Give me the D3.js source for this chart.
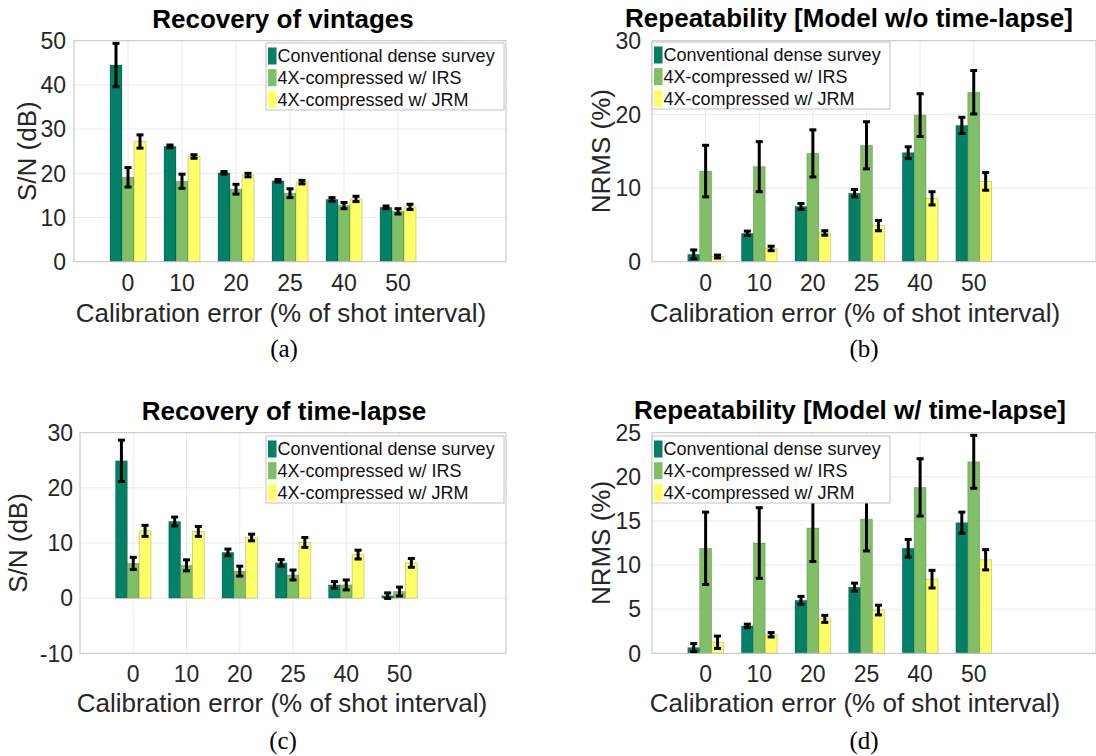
<!DOCTYPE html>
<html><head><meta charset="utf-8">
<script src="https://cdn.jsdelivr.net/npm/d3@7"></script>
<style>body{margin:0;background:#fff} svg{display:block}</style>
</head><body>
<svg id="fig" width="1096" height="756"></svg>
<script>
// ---------- data ----------
const categories = ["0", "10", "20", "25", "40", "50"];
const seriesNames = ["Conventional dense survey", "4X-compressed w/ IRS", "4X-compressed w/ JRM"];
const seriesColors = ["#008066", "#80bf66", "#ffff66"];

// (a) Recovery of vintages, S/N (dB)
const vintConv   = [44.5, 26.1, 20.1, 18.3, 14.1, 12.3];
const vintConvE  = [4.9, 0.3, 0.3, 0.3, 0.4, 0.3];
const vintIRS    = [19.1, 18.2, 16.4, 15.5, 12.7, 11.4];
const vintIRSE   = [2.2, 1.6, 1.1, 1.0, 0.7, 0.6];
const vintJRM    = [27.2, 23.8, 19.6, 18.0, 14.2, 12.4];
const vintJRME   = [1.5, 0.4, 0.4, 0.4, 0.6, 0.6];

// (b) Repeatability, model w/o time-lapse, NRMS (%)
const repNoConv  = [1.0, 3.85, 7.5, 9.3, 14.8, 18.5];
const repNoConvE = [0.6, 0.3, 0.4, 0.5, 0.8, 1.1];
const repNoIRS   = [12.3, 12.9, 14.7, 15.8, 19.9, 23.0];
const repNoIRSE  = [3.5, 3.4, 3.2, 3.2, 2.9, 2.95];
const repNoJRM   = [0.7, 1.8, 3.9, 4.9, 8.6, 10.9];
const repNoJRME  = [0.2, 0.3, 0.3, 0.7, 0.9, 1.2];

// (c) Recovery of time-lapse, S/N (dB)
const tlConv     = [24.9, 13.9, 8.3, 6.4, 2.4, 0.45];
const tlConvE    = [3.75, 0.8, 0.6, 0.6, 0.6, 0.5];
const tlIRS      = [6.3, 5.95, 4.9, 4.2, 2.4, 1.2];
const tlIRSE     = [1.1, 1.0, 0.9, 0.9, 0.9, 0.8];
const tlJRM      = [12.2, 12.1, 11.0, 10.1, 7.9, 6.4];
const tlJRME     = [1.0, 0.9, 0.6, 0.9, 0.8, 0.8];

// (d) Repeatability, model w/ time-lapse, NRMS (%)
const repTlConv  = [0.65, 3.1, 6.0, 7.5, 11.9, 14.8];
const repTlConvE = [0.45, 0.2, 0.45, 0.45, 1.0, 1.2];
const repTlIRS   = [11.9, 12.5, 14.2, 15.2, 18.8, 21.7];
const repTlIRSE  = [4.1, 4.0, 3.8, 3.6, 3.25, 3.0];
const repTlJRM   = [1.25, 2.1, 3.9, 4.9, 8.4, 10.6];
const repTlJRME  = [0.7, 0.25, 0.4, 0.55, 1.0, 1.15];

const ticksA = [0, 10, 20, 30, 40, 50];
const ticksB = [0, 10, 20, 30];
const ticksC = [-10, 0, 10, 20, 30];
const ticksD = [0, 5, 10, 15, 20, 25];

const xLabel = "Calibration error (% of shot interval)";

// ---------- layout ----------
const panels = [
  {cap:"(a)", title:"Recovery of vintages", ylabel:"S/N (dB)", yDomain:[0,50], yTicks:ticksA,
   vals:[vintConv, vintIRS, vintJRM], errs:[vintConvE, vintIRSE, vintJRME],
   box:[74, 506, 40.7, 261.7], xMax:8, legX:266, legY:43, tickR:66, titleX:283, titleY:28, xlabX:281, xlabY:322, capX:284, capY:357, ylabX:27, xtickY:291},
  {cap:"(b)", title:"Repeatability [Model w/o time-lapse]", ylabel:"NRMS (%)", yDomain:[0,30], yTicks:ticksB,
   vals:[repNoConv, repNoIRS, repNoJRM], errs:[repNoConvE, repNoIRSE, repNoJRME],
   box:[652, 1096, 40.7, 261.7], xMax:8.28, legX:652, legY:42, tickR:641, titleX:849, titleY:27, xlabX:855, xlabY:322, capX:864, capY:357, ylabX:601, xtickY:291},
  {cap:"(c)", title:"Recovery of time-lapse", ylabel:"S/N (dB)", yDomain:[-10,30], yTicks:ticksC,
   vals:[tlConv, tlIRS, tlJRM], errs:[tlConvE, tlIRSE, tlJRME],
   box:[80, 506, 432.7, 653.3], xMax:8, legX:266, legY:436, tickR:73, titleX:284, titleY:420, xlabX:282, xlabY:712, capX:283, capY:749, ylabX:18, xtickY:682},
  {cap:"(d)", title:"Repeatability [Model w/ time-lapse]", ylabel:"NRMS (%)", yDomain:[0,25], yTicks:ticksD,
   vals:[repTlConv, repTlIRS, repTlJRM], errs:[repTlConvE, repTlIRSE, repTlJRME],
   box:[652, 1096, 432.7, 653.3], xMax:8.28, legX:652, legY:436, tickR:641, titleX:850, titleY:419, xlabX:855, xlabY:712, capX:864, capY:749, ylabX:601, xtickY:682}
];

const svg = d3.select("#fig");
const SANS = "'Liberation Sans', Arial, Helvetica, sans-serif";
const TXT = "#262626";
const LEG_W = 238, LEG_H = 67;

panels.forEach(p => {
  const [x0, x1, yTop, yBot] = p.box;
  const g = svg.append("g");
  const x = d3.scaleLinear().domain([0, p.xMax]).range([x0, x1]);
  const y = d3.scaleLinear().domain(p.yDomain).range([yBot, yTop]);
  const bw = x(2/9) - x(0);

  // grid
  g.append("g").selectAll("line").data(p.yTicks.filter(t => t !== p.yDomain[0] && t !== p.yDomain[1]))
    .join("line").attr("x1", x0).attr("x2", x1).attr("y1", d => y(d)).attr("y2", d => y(d))
    .attr("stroke", "#ebebeb").attr("stroke-width", 1);
  g.append("g").selectAll("line").data(categories)
    .join("line").attr("x1", (d, i) => x(i + 1)).attr("x2", (d, i) => x(i + 1)).attr("y1", yTop).attr("y2", yBot)
    .attr("stroke", "#ebebeb").attr("stroke-width", 1);

  // bars
  p.vals.forEach((vals, s) => {
    g.append("g").selectAll("rect").data(vals).join("rect")
      .attr("x", (d, i) => x(i + 1) + (s - 1) * bw - bw / 2)
      .attr("width", bw)
      .attr("y", d => Math.min(y(d), y(0)))
      .attr("height", d => Math.abs(y(0) - y(d)))
      .attr("fill", seriesColors[s])
      .attr("stroke", "rgba(0,0,0,0.22)").attr("stroke-width", 0.8);
  });

  // box
  g.append("rect").attr("x", x0).attr("y", yTop).attr("width", x1 - x0).attr("height", yBot - yTop)
    .attr("fill", "none").attr("stroke", "#c2c2c2").attr("stroke-width", 1);

  // error bars
  p.vals.forEach((vals, s) => {
    const eg = g.append("g").attr("stroke", "#000").attr("stroke-width", 3);
    vals.forEach((v, i) => {
      const cx = x(i + 1) + (s - 1) * bw;
      const e = p.errs[s][i];
      eg.append("line").attr("x1", cx).attr("x2", cx).attr("y1", y(v - e)).attr("y2", y(v + e));
      [v - e, v + e].forEach(t => eg.append("line").attr("x1", cx - 3.5).attr("x2", cx + 3.5).attr("y1", y(t)).attr("y2", y(t)));
    });
  });

  // y tick labels
  g.append("g").selectAll("text").data(p.yTicks).join("text")
    .attr("x", p.tickR).attr("y", d => y(d)).attr("dy", "0.36em")
    .attr("text-anchor", "end").attr("font-family", SANS).attr("font-size", 23).attr("fill", TXT)
    .text(d => d);
  // x tick labels
  g.append("g").selectAll("text").data(categories).join("text")
    .attr("x", (d, i) => x(i + 1)).attr("y", p.xtickY)
    .attr("text-anchor", "middle").attr("font-family", SANS).attr("font-size", 23).attr("fill", TXT)
    .text(d => d);

  // axis labels
  g.append("text").attr("x", p.xlabX).attr("y", p.xlabY).attr("text-anchor", "middle")
    .attr("font-family", SANS).attr("font-size", 26).attr("fill", TXT).text(xLabel);
  g.append("text").attr("transform", `translate(${p.ylabX},${(yTop + yBot) / 2}) rotate(-90)`)
    .attr("dy", "0.36em").attr("text-anchor", "middle")
    .attr("font-family", SANS).attr("font-size", 26).attr("fill", TXT).text(p.ylabel);

  // title
  g.append("text").attr("x", p.titleX).attr("y", p.titleY).attr("text-anchor", "middle")
    .attr("font-family", SANS).attr("font-size", 26).attr("font-weight", "bold").attr("fill", "#000").text(p.title);

  // caption
  g.append("text").attr("x", p.capX).attr("y", p.capY).attr("text-anchor", "middle")
    .attr("font-family", "'Liberation Serif', 'DejaVu Serif', serif").attr("font-size", 25).attr("fill", "#000").text(p.cap);

  // legend
  const lx = p.legX, ly = p.legY;
  const lg = g.append("g");
  lg.append("rect").attr("x", lx).attr("y", ly).attr("width", LEG_W).attr("height", LEG_H)
    .attr("fill", "#fff").attr("stroke", "#c2c2c2").attr("stroke-width", 1);
  seriesNames.forEach((name, s) => {
    const cy = ly + 13 + s * 21.7;
    lg.append("rect").attr("x", lx + 2).attr("y", cy - 8.5).attr("width", 8.5).attr("height", 17)
      .attr("fill", seriesColors[s]);
    lg.append("text").attr("x", lx + 11.5).attr("y", cy).attr("dy", "0.36em")
      .attr("font-family", SANS).attr("font-size", 18).attr("fill", "#111").text(name);
  });
});
</script>
</body></html>
